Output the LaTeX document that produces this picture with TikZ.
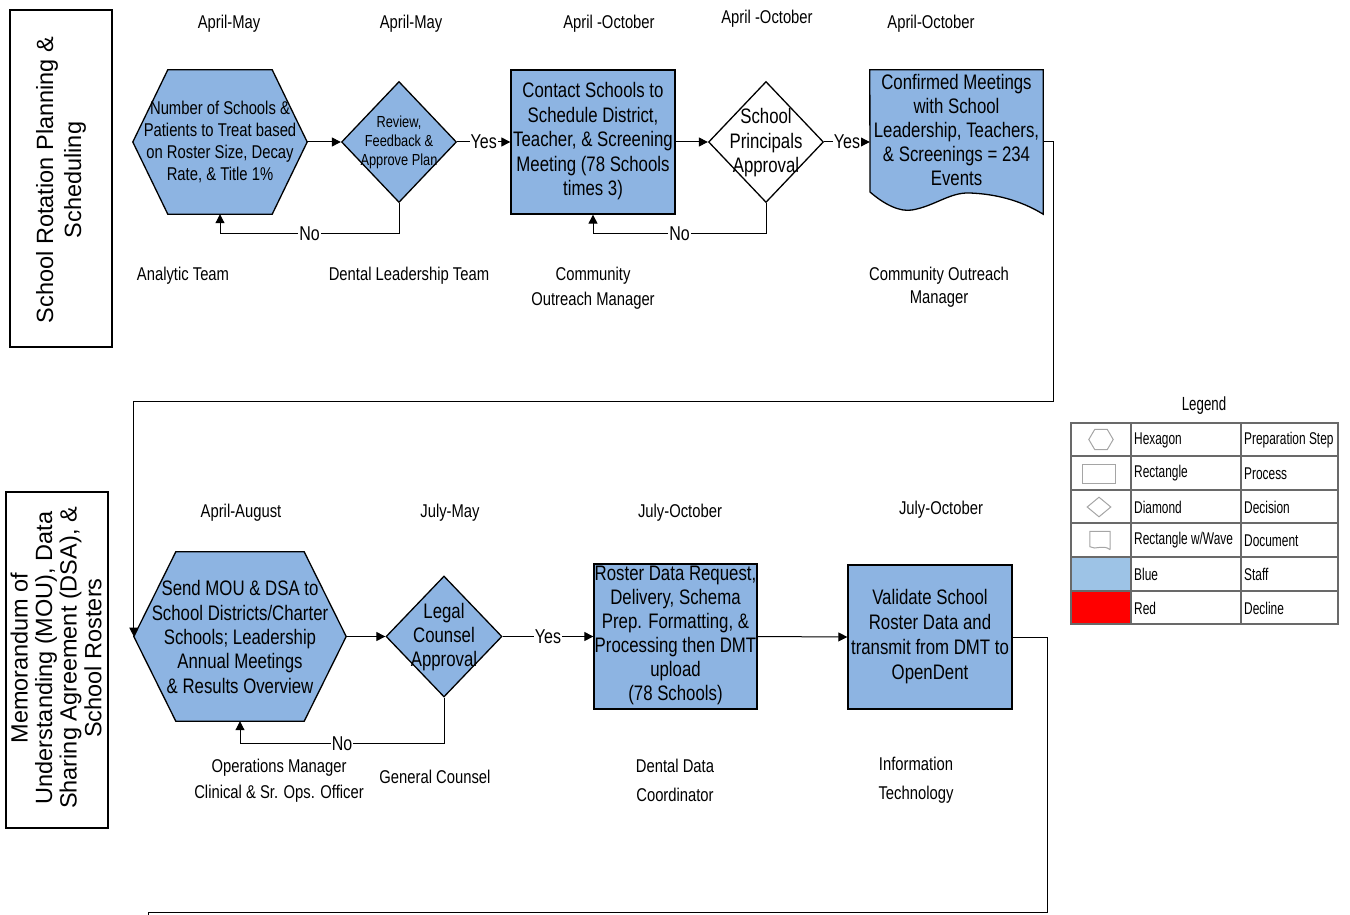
\documentclass[tikz,border=0pt]{standalone}
\usepackage{fontspec}
\setmainfont{Liberation Sans}[FakeStretch=0.8]
\newfontfamily\lanefont{Liberation Sans}
\newfontfamily\legfont{Liberation Sans}[FakeStretch=0.7]
\usetikzlibrary{shapes.geometric,arrows.meta,backgrounds}
\definecolor{stepblue}{RGB}{141,180,226}
\definecolor{legblue}{RGB}{157,195,230}
\definecolor{legred}{RGB}{255,0,0}
\definecolor{gridgray}{RGB}{105,105,105}
\definecolor{icongray}{RGB}{165,165,165}
\newcommand\fsz[2]{\fontsize{#1}{#2}\selectfont}
\tikzset{
  shapeline/.style={draw=black, line width=1.3pt, fill=stepblue},
  hold/.style={inner sep=0pt, align=center},
  procbox/.style={shapeline, inner sep=0pt, align=center, font=\fsz{21}{24.3}},
  decision/.style={diamond, draw=black, line width=1.3pt, inner sep=0pt},
  conn/.style={line width=1pt, -{Triangle[length=9pt,width=9pt]}},
  plainline/.style={line width=1pt},
  lbl/.style={align=center, font=\fsz{18.5}{25}, yshift=-2pt},
  yn/.style={fill=white, inner sep=1pt, font=\fsz{20}{22}},
  lanebox/.style={draw=black, line width=2.2pt, inner sep=0pt},
  legtxt/.style={anchor=west, inner sep=0pt, font=\legfont\fsz{17}{18}},
  gridline/.style={draw=gridgray, line width=1.4pt},
  icon/.style={draw=icongray, line width=1pt}
}
\begin{document}
\begin{tikzpicture}[x=1pt,y=-1pt]
\useasboundingbox (0,0) rectangle (1350,915);

% ---------- lanes ----------
\node[lanebox, minimum width=102pt, minimum height=337pt] (lane1) at (61,178.5) {};
\node[rotate=90, align=center, inner sep=0pt, font=\lanefont\fsz{23.5}{28}] (lane1t) at (61,180) {School Rotation Planning \&\\Scheduling};
\node[lanebox, minimum width=102pt, minimum height=336pt] (lane2) at (57,660) {};
\node[rotate=90, align=center, inner sep=0pt, font=\lanefont\fsz{23.5}{24.6}] (lane2t) at (56,658) {Memorandum of\\Understanding (MOU), Data\\Sharing Agreement (DSA), \&\\School Rosters};

% ---------- row 1 ----------
\node[hold, minimum width=174pt, minimum height=144pt] (hex1) at (220,142) {};
\begin{scope}[on background layer]
\draw[shapeline] (hex1.west) -- ([xshift=35pt]hex1.north west) -- ([xshift=-35pt]hex1.north east) -- (hex1.east) -- ([xshift=-35pt]hex1.south east) -- ([xshift=35pt]hex1.south west) -- cycle;
\end{scope}
\node[hold, font=\fsz{18.5}{21.7}] (hex1t) at (220,142) {Number of Schools \&\\Patients to Treat based\\on Roster Size, Decay\\Rate, \& Title 1\%};

\node[decision, fill=stepblue, minimum width=115pt, minimum height=121pt] (d1) at (399,142) {};
\node[hold, font=\fsz{16}{19}] (d1t) at (399,142.5) {Review,\\Feedback \&\\Approve Plan};

\node[procbox, minimum width=164pt, minimum height=144pt] (r1) at (593,142) {};
\node[hold, font=\fsz{21}{24.5}] (r1t) at (593,141.5) {Contact Schools to\\Schedule District,\\Teacher, \& Screening\\Meeting (78 Schools\\times 3)};

\node[decision, fill=white, minimum width=115pt, minimum height=121pt] (d2) at (766,142) {};
\node[hold, font=\fsz{21}{24.5}] (d2t) at (766,143) {School\\Principals\\Approval};

\node[hold, minimum width=173pt, minimum height=144pt] (doc) at (956.5,142) {};
\begin{scope}[on background layer]
\draw[shapeline] (doc.south east) -- (doc.north east) -- (doc.north west) -- (870,192)
  .. controls (885,205) and (900,212) .. (912,210)
  .. controls (935,206) and (950,192) .. (970,193)
  .. controls (995,194) and (1020,200) .. (doc.south east) -- cycle;
\end{scope}
\node[hold, font=\fsz{21}{24.2}] (doct) at (956.5,130) {Confirmed Meetings\\with School\\Leadership, Teachers,\\\& Screenings = 234\\Events};

% row 1 labels
\node[lbl] (t1) at (229,22) {April-May};
\node[lbl] (t2) at (411,22) {April-May};
\node[lbl] (t3) at (609,22) {April -October};
\node[lbl] (t4) at (767,17) {April -October};
\node[lbl] (t5) at (931,22) {April-October};
\node[lbl] (s1) at (183,274) {Analytic Team};
\node[lbl] (s2) at (409,274) {Dental Leadership Team};
\node[lbl] (s3) at (593,286.5) {Community\\Outreach Manager};
\node[lbl, font=\fsz{18.5}{23}] (s4) at (939,285.5) {Community Outreach\\Manager};

% row 1 connectors
\draw[conn] (hex1.east) -- (d1.west);
\draw[conn] (d1.east) -- node[yn] (y1) {Yes} (r1.west);
\draw[conn] (d1.south) -- ++(0,30.5) -| node[yn, pos=0.25] (n1) {No} (hex1.south);
\draw[conn] (r1.east) -- (d2.west);
\draw[conn] (d2.east) -- node[yn] (y2) {Yes} (doc.west);
\draw[conn] (d2.south) -- ++(0,30.5) -| node[yn, pos=0.25] (n2) {No} (r1.south);

% ---------- row 2 ----------
\node[hold, minimum width=212pt, minimum height=169pt] (hex2) at (240,636.5) {};
\begin{scope}[on background layer]
\draw[shapeline] (hex2.west) -- ([xshift=42pt]hex2.north west) -- ([xshift=-42pt]hex2.north east) -- (hex2.east) -- ([xshift=-42pt]hex2.south east) -- ([xshift=42pt]hex2.south west) -- cycle;
\end{scope}
\node[hold, font=\fsz{21}{24.3}] (hex2t) at (240,637) {Send MOU \& DSA to\\School Districts/Charter\\Schools; Leadership\\Annual Meetings\\\& Results Overview};

\coordinate (turn1) at (1053,401);
\draw[conn] (doc.east) -| (turn1) -| (hex2.west);

\node[decision, fill=stepblue, minimum width=116pt, minimum height=121pt] (d3) at (444,636.5) {};
\node[hold, font=\fsz{21}{24}] (d3t) at (444,637.5) {Legal\\Counsel\\Approval};

\node[procbox, minimum width=163pt, minimum height=145pt] (r3) at (675.5,636.5) {};
\node[hold, font=\fsz{21}{24}] (r3t) at (675.5,635.5) {Roster Data Request,\\Delivery, Schema\\Prep. Formatting, \&\\Processing then DMT\\upload\\(78 Schools)};

\node[procbox, minimum width=164pt, minimum height=144pt] (r4) at (930,637) {};
\node[hold, font=\fsz{21}{25}] (r4t) at (930,637) {Validate School\\Roster Data and\\transmit from DMT to\\OpenDent};

% row 2 labels
\node[lbl] (t6) at (241,511) {April-August};
\node[lbl] (t7) at (450,511) {July-May};
\node[lbl] (t8) at (680,511) {July-October};
\node[lbl] (t9) at (941,508) {July-October};
\node[lbl, font=\fsz{18.5}{26}] (s5) at (279,779) {Operations Manager\\Clinical \& Sr. Ops. Officer};
\node[lbl] (s6) at (435,775) {General Counsel};
\node[lbl, font=\fsz{18.5}{29}] (s7) at (675,778.5) {Dental Data\\Coordinator};
\node[lbl, font=\fsz{18.5}{29}] (s8) at (916,778.5) {Information\\Technology};

% row 2 connectors
\draw[conn] (hex2.east) -- (d3.west);
\draw[conn] (d3.east) -- node[yn] (y3) {Yes} (r3.west);
\draw[conn] (d3.south) -- ++(0,46) -| node[yn, pos=0.25] (n3) {No} (hex2.south);
\draw[conn] (r3.east) -- (r4.west);
\coordinate (turn2) at (1047,912);
\coordinate (endpt) at (148,916);
\draw[plainline] (r4.east) -| (turn2) -| (endpt);

% ---------- legend ----------
\node[font=\legfont\fsz{19}{20}] (legt) at (1204,406) {Legend};
\fill[legblue] (1071,557) rectangle (1131,591);
\fill[legred] (1071,591) rectangle (1131,624);
\draw[draw=red!60!black, line width=1pt] (1071,591) rectangle (1131,624);
\draw[gridline] (1071,423) rectangle (1338,624);
\foreach \yy in {456,490,523,557,591} \draw[gridline] (1071,\yy) -- (1338,\yy);
\draw[gridline] (1131,423) -- (1131,624);
\draw[gridline] (1241,423) -- (1241,624);
% icons
\node[hold, minimum width=24pt, minimum height=20pt] (ic1) at (1101,439.5) {};
\draw[icon] (ic1.west) -- ([xshift=6pt]ic1.north west) -- ([xshift=-6pt]ic1.north east) -- (ic1.east) -- ([xshift=-6pt]ic1.south east) -- ([xshift=6pt]ic1.south west) -- cycle;
\node[icon, inner sep=0pt, minimum width=33pt, minimum height=19pt] (ic2) at (1098.5,473.5) {};
\node[diamond, icon, inner sep=0pt, minimum width=24pt, minimum height=20pt] (ic3) at (1099,507) {};
\node[hold, minimum width=20pt, minimum height=18pt] (ic4) at (1100,540.5) {};
\draw[icon] (ic4.south east) -- (ic4.north east) -- (ic4.north west) -- ([yshift=3pt]ic4.south west)
  .. controls ([xshift=6pt,yshift=-1pt]ic4.south west) and ([xshift=-8pt,yshift=6pt]ic4.south east) .. (ic4.south east);
% legend text
\node[legtxt] (lh1) at (1134,440) {Hexagon};
\node[legtxt] (lh2) at (1134,473.5) {Rectangle};
\node[legtxt] (lh3) at (1134,507) {Diamond};
\node[legtxt] (lh4) at (1134,540.5) {Rectangle w/Wave};
\node[legtxt] (lh5) at (1134,574.5) {Blue};
\node[legtxt] (lh6) at (1134,608) {Red};
\node[legtxt] (lm1) at (1244,440) {Preparation Step};
\node[legtxt] (lm2) at (1244,473.5) {Process};
\node[legtxt] (lm3) at (1244,507) {Decision};
\node[legtxt] (lm4) at (1244,540.5) {Document};
\node[legtxt] (lm5) at (1244,574.5) {Staff};
\node[legtxt] (lm6) at (1244,608) {Decline};
\end{tikzpicture}
\end{document}
